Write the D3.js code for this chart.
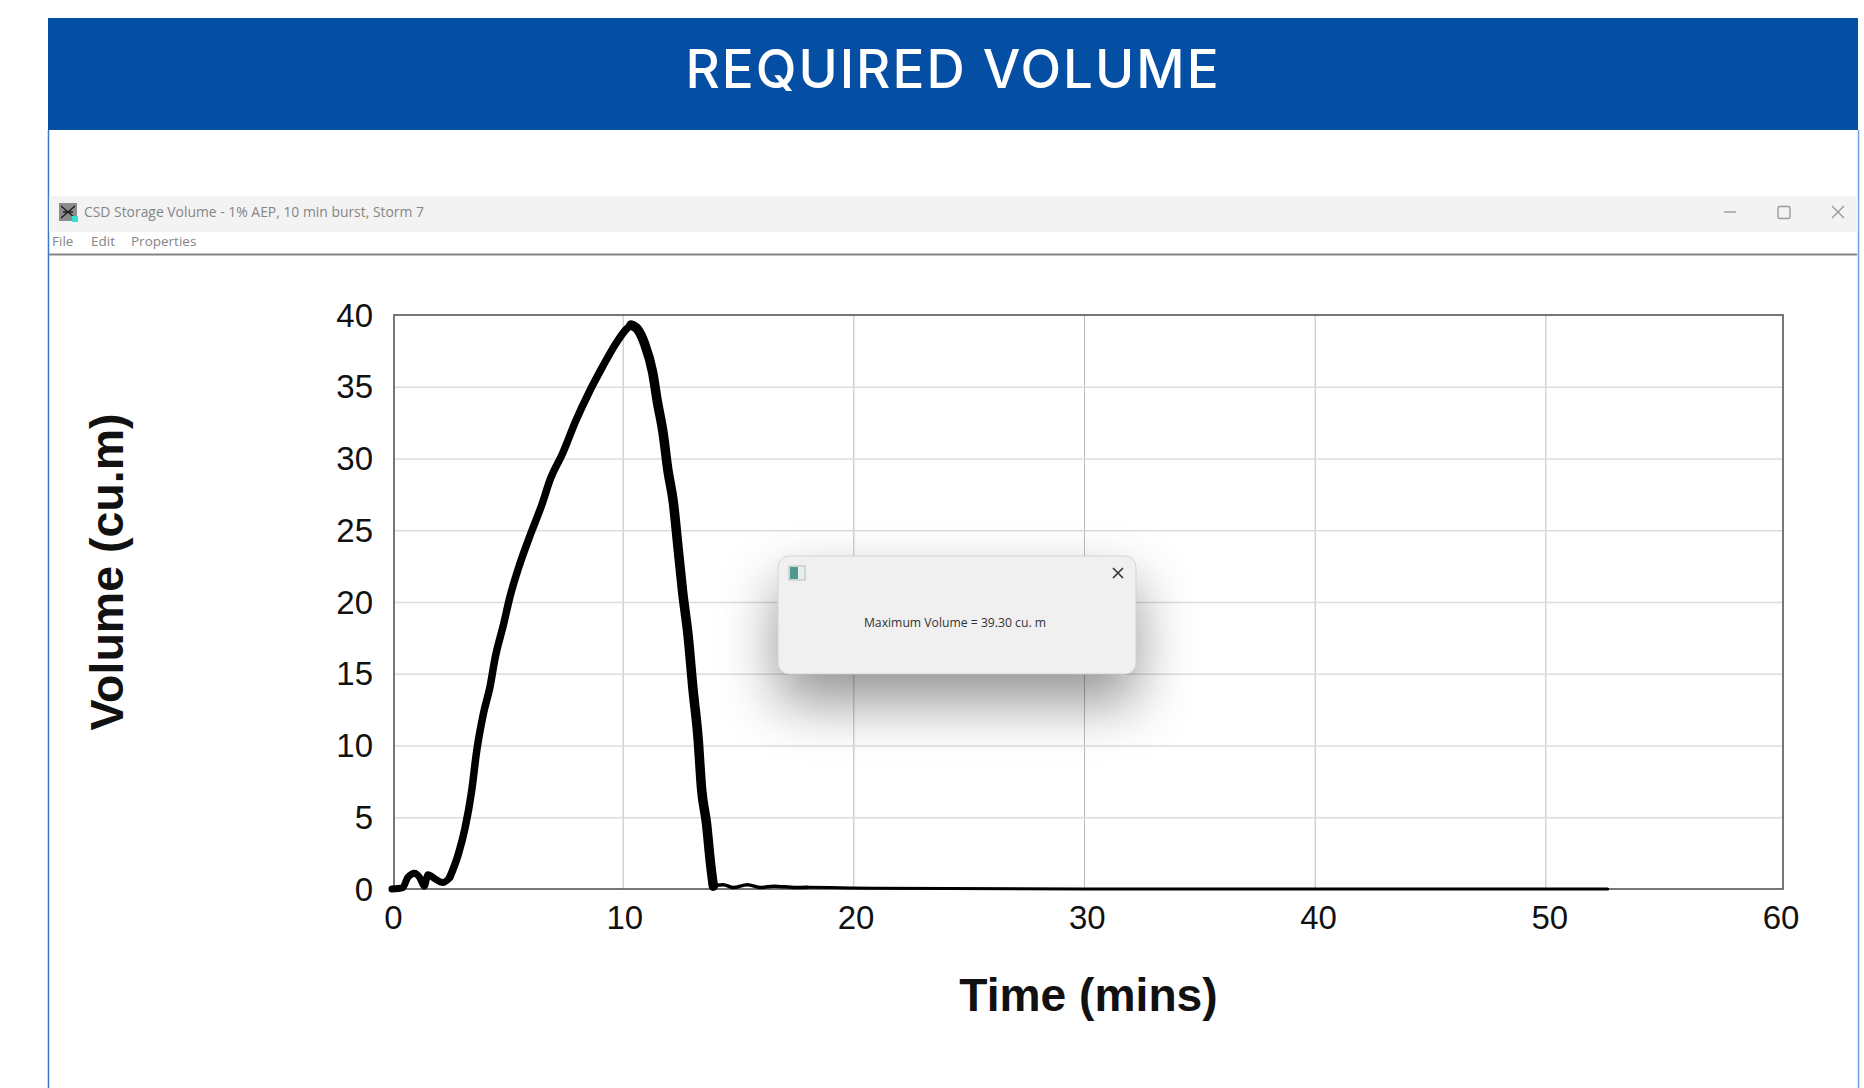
<!DOCTYPE html>
<html><head><meta charset="utf-8">
<script src="https://cdn.jsdelivr.net/npm/d3@7"></script>
<style>
html,body{margin:0;padding:0;background:#fff;overflow:hidden}
svg{display:block}
.tick text{font-family:"Liberation Sans",Arial,sans-serif;font-size:33px;fill:#111}
.grid path{display:none}
.win{font-family:"Open Sans",sans-serif;fill:#858585}
</style></head><body>
<svg id="c" width="1864" height="1088"></svg>
<script>
const timeMins = [0,0.47,0.68,0.98,1.2,1.4,1.56,1.92,2.2,2.5,2.87,3.16,3.45,3.67,3.96,4.25,4.47,4.83,5.12,5.49,6,6.5,6.87,7.38,7.96,8.54,9.13,9.7,10.15,10.36,10.65,10.95,11.3,11.5,11.75,11.96,12.2,12.4,12.6,12.84,13.05,13.27,13.42,13.64,13.8,13.93,14.36,14.8,15.4,16,16.55,17.5,18,19,21,30,52.7];
const volumeCuM = [0,0.1,0.8,1.1,0.8,0.2,1,0.65,0.45,0.8,2.4,4.2,6.8,9.6,12.2,14.1,16.1,18.4,20.4,22.4,24.7,26.8,28.6,30.3,32.6,34.6,36.4,38,39,39.3,39,38,36,34,31.8,29.2,26.9,23.8,20.7,17.6,13.9,10.5,7,4.5,1.9,0.2,0.3,0.1,0.3,0.1,0.2,0.1,0.12,0.1,0.05,0,0];
const xTicks = [0,10,20,30,40,50,60];
const yTicks = [0,5,10,15,20,25,30,35,40];
const headerTitle = "REQUIRED VOLUME";
const windowTitle = "CSD Storage Volume - 1% AEP, 10 min burst, Storm 7";
const menuItems = ["File","Edit","Properties"];
const menuX = [52,91,131];
const xTitle = "Time (mins)";
const yTitle = "Volume (cu.m)";
const dialogText = "Maximum Volume = 39.30 cu. m";

const svg = d3.select("#c");
const L=394,R=1783,T=315,B=889;
const x = d3.scaleLinear().domain([0,60]).range([392,1776]);
const xLabel = d3.scaleLinear().domain([0,60]).range([393,1780.5]);
const y = d3.scaleLinear().domain([0,40]).range([B,T]);

// page frame
svg.append("rect").attr("x",48).attr("y",18).attr("width",1810).attr("height",112).attr("fill","#044ea3");
svg.append("text").attr("x",953).attr("y",88).attr("text-anchor","middle")
  .attr("font-family","Inter,'Noto Sans',sans-serif").attr("font-weight",500).attr("font-size",53).attr("letter-spacing",2).attr("fill","#fff").text(headerTitle);
svg.append("line").attr("x1",48.5).attr("x2",48.5).attr("y1",130).attr("y2",1088).attr("stroke","#3a78cc").attr("stroke-width",1.5);
svg.append("line").attr("x1",1858.5).attr("x2",1858.5).attr("y1",130).attr("y2",1088).attr("stroke","#6f9fdc").attr("stroke-width",1.5);

// window chrome
svg.append("rect").attr("x",49).attr("y",196).attr("width",1809).attr("height",36).attr("fill","#f3f3f3");
svg.append("line").attr("x1",49).attr("x2",1857).attr("y1",254.5).attr("y2",254.5).attr("stroke","#858585").attr("stroke-width",2);
const ic = svg.append("g").attr("transform","translate(59,203)");
ic.append("rect").attr("width",18).attr("height",18).attr("fill","#8d8d8d");
ic.append("path").attr("d","M2 3L9 9L16 3M2 15L9 9L16 15M4 9L14 9").attr("fill","none").attr("stroke","#222").attr("stroke-width",1.5);
ic.append("rect").attr("x",13).attr("y",13).attr("width",6).attr("height",6).attr("fill","#35e0d0");
svg.append("text").attr("class","win").attr("x",84).attr("y",217).attr("font-size",13.9).text(windowTitle);
svg.selectAll(".menu").data(menuItems).join("text").attr("class","win menu")
  .attr("x",(d,i)=>menuX[i]).attr("y",246).attr("font-size",13.5).text(d=>d);
const wc = svg.append("g").attr("fill","none").attr("stroke","#999").attr("stroke-width",1.4);
wc.append("line").attr("x1",1724).attr("x2",1736).attr("y1",212).attr("y2",212);
wc.append("rect").attr("x",1778).attr("y",206.5).attr("width",12).attr("height",12).attr("rx",1.5);
wc.append("path").attr("d","M1832 206L1844 218M1844 206L1832 218");

// grid
const gx = svg.append("g").attr("class","grid").attr("transform",`translate(0,${B})`)
  .call(d3.axisBottom(x).tickValues(xTicks.slice(1,-1)).tickSize(-(B-T)).tickFormat(""));
gx.selectAll("line").attr("stroke","#bcbcbc").attr("stroke-width",1);
const gy = svg.append("g").attr("class","grid").attr("transform",`translate(${L},0)`)
  .call(d3.axisLeft(y).tickValues(yTicks.slice(1,-1)).tickSize(-(R-L)).tickFormat(""));
gy.selectAll("line").attr("stroke","#dcdcdc").attr("stroke-width",1.6);
svg.append("rect").attr("x",L).attr("y",T).attr("width",R-L).attr("height",B-T).attr("fill","none").attr("stroke","#555").attr("stroke-width",1.6);

// tick labels
const ax = svg.append("g").attr("transform",`translate(0,${B})`).call(d3.axisBottom(xLabel).tickValues(xTicks).tickSize(0).tickPadding(17));
ax.select(".domain").remove();
ax.selectAll("text").attr("dy","0.71em");
const ay = svg.append("g").attr("transform",`translate(${L},0)`).call(d3.axisLeft(y).tickValues(yTicks).tickSize(0).tickPadding(21));
ay.select(".domain").remove();
ay.selectAll("text").attr("dy","0.34em");

// axis titles
svg.append("text").attr("x",1088.5).attr("y",1011).attr("text-anchor","middle").attr("font-family","'Liberation Sans',Arial,sans-serif").attr("font-weight",700).attr("font-size",46.2).attr("fill","#111").text(xTitle);
svg.append("text").attr("transform","translate(123,572) rotate(-90)").attr("text-anchor","middle").attr("font-family","'Liberation Sans',Arial,sans-serif").attr("font-weight",700).attr("font-size",46.5).attr("fill","#111").text(yTitle);

// curve: stroke varies along the trace as in the picture
const series = timeMins.map((t,i)=>({t,v:volumeCuM[i]}));
const lineGen = d3.line().x(d=>x(d.t)).y(d=>y(d.v)).curve(d3.curveMonotoneX);
const segs = [
  {from:0,to:2.5,w:7},
  {from:2.5,to:10.36,w:7.5},
  {from:10.36,to:13.93,w:9.5},
  {from:13.93,to:18,w:3.5},
  {from:18,to:60,w:3}
];
svg.selectAll(".curve").data(segs).join("path").attr("class","curve")
  .attr("d",s=>lineGen(series.filter(d=>d.t>=s.from&&d.t<=s.to)))
  .attr("fill","none").attr("stroke","#000").attr("stroke-width",s=>s.w)
  .attr("stroke-linecap","round").attr("stroke-linejoin","round");

// dialog
const dg = svg.append("g");
dg.append("rect").attr("x",778).attr("y",556).attr("width",358).attr("height",118).attr("rx",11)
  .attr("fill","#f0f0f0").attr("stroke","#d4d4d4").style("filter","drop-shadow(0 28px 28px rgba(0,0,0,.42))");
dg.append("rect").attr("x",789).attr("y",566).attr("width",16).attr("height",14).attr("fill","#e8eeee").attr("stroke","#bbb");
dg.append("rect").attr("x",790).attr("y",567).attr("width",8).attr("height",12).attr("fill","#4f9a8c");
dg.append("path").attr("d","M1113 568L1123 578M1123 568L1113 578").attr("stroke","#333").attr("stroke-width",1.6);
dg.append("text").attr("x",955).attr("y",627).attr("text-anchor","middle").attr("font-family","'Open Sans',sans-serif").attr("font-size",12.2).attr("fill","#333").text(dialogText);
</script></body></html>
